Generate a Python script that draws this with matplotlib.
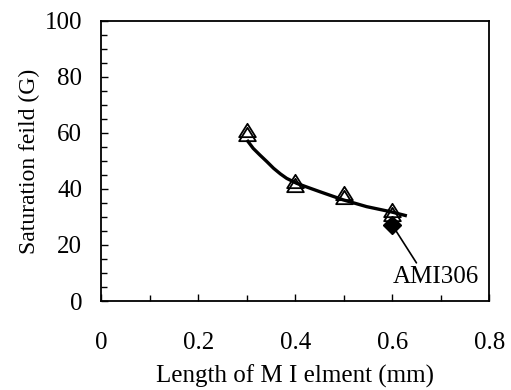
import matplotlib
matplotlib.use('Agg')
import matplotlib.pyplot as plt
from matplotlib.path import Path
from matplotlib.ticker import MultipleLocator

# measured points (two overlapping triangle series)
length_mm = [0.3, 0.4, 0.5, 0.6]
field_a = [61.1, 42.8, 38.5, 32.6]
field_b = [59.6, 41.4, 37.3, 31.2]

# AMI306 reference point
ami_x = [0.6]
ami_y = [27.1]

# trend curve
curve_x = [0.300, 0.313, 0.327, 0.341, 0.355, 0.369, 0.382, 0.403,
           0.430, 0.451, 0.499, 0.547, 0.596, 0.630]
curve_y = [57.5, 54.5, 52.1, 49.8, 47.4, 45.4, 43.8, 42.0,
           40.3, 39.0, 36.1, 33.7, 31.9, 30.4]

plt.rcParams['font.family'] = 'Liberation Serif'
plt.rcParams['font.size'] = 18

fig = plt.figure(figsize=(5.11, 3.90), dpi=100)
ax = fig.add_axes([0.1986, 0.2282, 0.7589, 0.7180])

# slightly flattened triangle, like the original marker
tri = Path([(-1, -0.8), (1, -0.8), (0, 0.8), (-1, -0.8)],
           [Path.MOVETO, Path.LINETO, Path.LINETO, Path.CLOSEPOLY])

ax.plot(curve_x, curve_y, color='black', lw=2.4, zorder=2,
        solid_capstyle='butt', solid_joinstyle='round')
for ys in (field_a, field_b):
    ax.plot(length_mm, ys, ls='none', marker=tri, ms=12,
            mfc='none', mec='black', mew=1.3, zorder=3)
ax.plot(ami_x, ami_y, ls='none', marker='D', ms=9,
        color='black', zorder=4)

ax.annotate('AMI306', xy=(ami_x[0], ami_y[0]), xytext=(0.6, 8.7),
            ha='left', va='center',
            arrowprops=dict(arrowstyle='-', color='black', lw=1.2,
                            shrinkA=0, shrinkB=0, relpos=(0.3, 1.0)))

ax.set_xlim(0, 0.8)
ax.set_ylim(0, 100)
ax.set_xticks([0, 0.2, 0.4, 0.6, 0.8])
ax.set_xticklabels(['0', '0.2', '0.4', '0.6', '0.8'])
ax.xaxis.set_minor_locator(MultipleLocator(0.1))
ax.yaxis.set_major_locator(MultipleLocator(20))
ax.yaxis.set_minor_locator(MultipleLocator(5))
ax.tick_params(which='both', direction='in', width=1.0)
ax.tick_params(which='major', length=5)
ax.tick_params(which='minor', length=4)
ax.tick_params(axis='x', pad=22)
ax.tick_params(axis='y', pad=14)
for s in ax.spines.values():
    s.set_linewidth(1.3)

ax.set_xlabel('Length of M I elment (mm)', labelpad=8)
ax.set_ylabel('Saturation feild (G)', labelpad=3, fontsize=17)

fig.savefig('out.png', dpi=100)
